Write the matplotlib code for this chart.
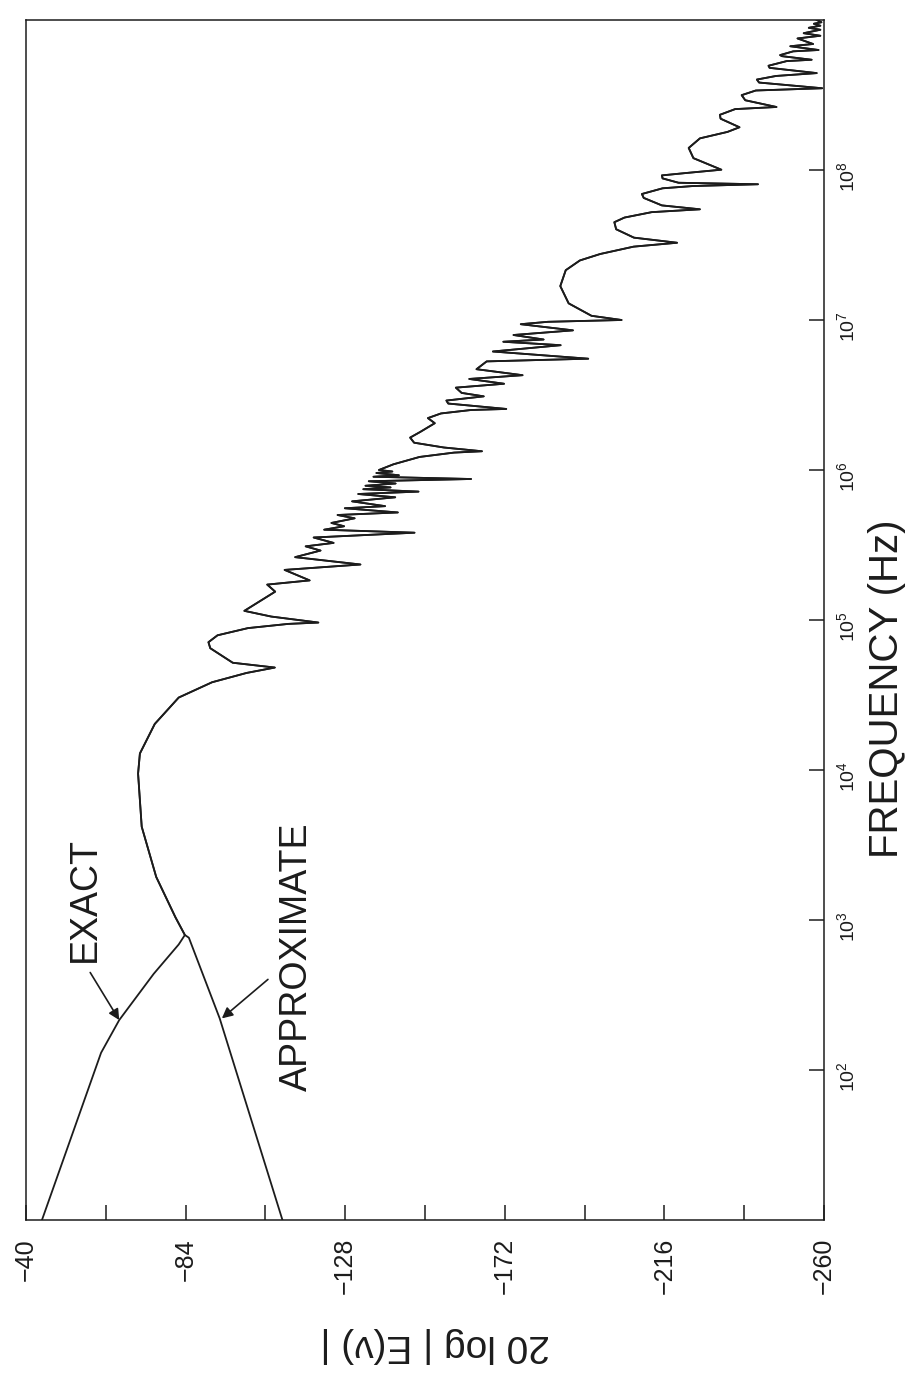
import numpy as np
import matplotlib.pyplot as plt
from matplotlib.ticker import NullLocator, FixedLocator

plt.rcParams['font.family'] = ['Liberation Sans', 'DejaVu Sans']
plt.rcParams['mathtext.fontset'] = 'custom'
plt.rcParams['mathtext.rm'] = 'Liberation Sans'

# frequencies are stored as log10(f / Hz), levels as 20 log |E(v)| in dB
exact_low_exp = [1.0, 2.115, 2.333, 2.641, 2.837, 2.90]
exact_low_db = [-44.4, -60.7, -65.7, -75.2, -82.1, -83.8]

approx_low_exp = [1.0, 2.344, 2.882, 2.90]
approx_low_db = [-110.7, -93.4, -84.9, -83.8]

# part of the spectrum where both curves coincide
shared_exp = [
    2.90, 3.018, 3.287, 3.622, 3.976, 4.11, 4.307, 4.483, 4.585, 4.647,
    4.683, 4.715, 4.812, 4.852, 4.898, 4.946, 4.974, 4.983, 5.023, 5.061,
    5.189, 5.236, 5.264, 5.334, 5.37, 5.419, 5.463, 5.491, 5.514, 5.55,
    5.582, 5.602, 5.625, 5.647, 5.678, 5.70, 5.717, 5.745, 5.759, 5.791,
    5.818, 5.840, 5.856, 5.872, 5.884, 5.895, 5.910, 5.925, 5.940, 5.955,
    5.965, 5.98, 5.99, 6.0, 6.038, 6.087, 6.116, 6.125, 6.15, 6.182,
    6.216, 6.254, 6.312, 6.346, 6.377, 6.40, 6.407, 6.426, 6.443, 6.463,
    6.491, 6.514, 6.549, 6.575, 6.607, 6.632, 6.672, 6.724, 6.742, 6.79,
    6.832, 6.855, 6.87, 6.90, 6.931, 6.972, 6.988, 7.0, 7.028, 7.111,
    7.226, 7.332, 7.397, 7.44, 7.489, 7.515, 7.549, 7.605, 7.652, 7.683,
    7.719, 7.738, 7.764, 7.814, 7.840, 7.878, 7.893, 7.905, 7.915, 7.944,
    7.964, 7.98, 8.002, 8.079, 8.147, 8.211, 8.254, 8.285, 8.342, 8.368,
    8.406, 8.42, 8.465, 8.499, 8.53, 8.545, 8.583, 8.603, 8.627, 8.646,
    8.681, 8.695, 8.726, 8.735, 8.759, 8.766, 8.791, 8.80, 8.825, 8.84,
    8.877, 8.895, 8.912, 8.935, 8.948, 8.962, 8.975, 8.985, 9.0,
]
shared_db = [
    -83.8, -81.2, -75.9, -71.9, -70.9, -71.4, -75.5, -82.1, -91.3, -100.8,
    -108.6, -97.0, -90.8, -90.3, -92.8, -101.2, -112.3, -120.6, -107.6, -100.2,
    -108.7, -106.5, -118.2, -111.3, -132.2, -114.2, -121.2, -117.1, -124.8, -119.3,
    -147.1, -122.2, -127.7, -124.2, -130.6, -125.9, -142.5, -127.9, -139.0, -129.9,
    -141.8, -131.6, -148.2, -133.0, -140.5, -133.6, -141.9, -134.5, -162.7, -135.8,
    -142.8, -136.6, -141.0, -137.3, -141.3, -148.5, -158.0, -165.7, -155.2, -147.0,
    -145.9, -148.7, -152.7, -150.8, -154.4, -162.7, -172.4, -163.9, -156.4, -155.9,
    -166.2, -160.1, -158.5, -171.8, -162.2, -176.9, -164.2, -167.0, -195.0, -168.7,
    -187.4, -171.6, -182.7, -174.4, -190.8, -176.4, -183.9, -204.2, -195.9, -189.6,
    -187.3, -188.8, -192.7, -198.3, -207.5, -219.5, -207.6, -202.7, -202.2, -205.0,
    -212.5, -225.8, -215.3, -210.3, -209.8, -215.5, -223.8, -241.8, -219.9, -215.5,
    -215.3, -222.0, -231.7, -224.0, -222.7, -225.8, -233.4, -236.7, -231.5, -231.3,
    -235.5, -246.9, -238.3, -237.3, -241.2, -259.5, -242.1, -241.5, -246.8, -258.0,
    -245.0, -244.7, -249.7, -256.6, -248.4, -247.9, -251.5, -258.5, -250.7, -257.0,
    -252.7, -259.0, -254.4, -259.0, -255.8, -259.0, -257.2, -259.3, -258.0,
]

db_ticks = [-40, -84, -128, -172, -216, -260]
db_tick_labels = ['\u221240', '\u221284', '\u2212128', '\u2212172', '\u2212216', '\u2212260']
db_minor_ticks = [-62, -106, -150, -194, -238]
freq_tick_exp = [2, 3, 4, 5, 6, 7, 8]
freq_tick_labels = [r'$\mathregular{10^{%d}}$' % e for e in freq_tick_exp]

ink = '#1c1c1c'

fig = plt.figure(figsize=(9.22, 13.73), dpi=100)
ax = fig.add_axes([26 / 922, 153 / 1373, 798 / 922, 1200 / 1373])

ax.plot(exact_low_db + shared_db, 10.0 ** np.array(exact_low_exp + shared_exp),
        color=ink, lw=1.3)
ax.plot(approx_low_db + shared_db, 10.0 ** np.array(approx_low_exp + shared_exp),
        color=ink, lw=1.3)

ax.set_yscale('log')
ax.set_xlim(-40, -260)
ax.set_ylim(1e1, 1e9)

# level axis (horizontal in the rotated figure)
ax.xaxis.set_major_locator(FixedLocator(db_ticks))
ax.xaxis.set_minor_locator(FixedLocator(db_minor_ticks))
ax.set_xticklabels(db_tick_labels)
ax.tick_params(axis='x', which='both', direction='in', length=11, width=1.1,
               color=ink, labelsize=18, labelrotation=90, pad=13, labelcolor=ink)

# frequency axis on the right side
ax.yaxis.tick_right()
ax.yaxis.set_major_locator(FixedLocator([10.0 ** e for e in freq_tick_exp]))
ax.yaxis.set_minor_locator(NullLocator())
ax.set_yticklabels(freq_tick_labels)
ax.tick_params(axis='y', which='major', direction='in', length=11, width=1.1,
               color=ink, labelsize=14, labelrotation=90, pad=9, labelcolor=ink)

for s in ax.spines.values():
    s.set_linewidth(1.1)
    s.set_color(ink)

ax.yaxis.set_label_position('right')
ax.set_ylabel('FREQUENCY (Hz)', fontsize=29, color=ink)
ax.yaxis.set_label_coords(1.055, 0.443)

ax.set_xlabel('20 log | E(\u03bd) |', fontsize=28, rotation=180, color=ink)
ax.xaxis.set_label_coords(0.5125, -0.089)

# curve labels with arrows
ax.text(-56.1, 10 ** 3.138, 'EXACT', rotation=90, fontsize=27,
        ha='center', va='center', color=ink)
ax.text(-114.7, 10 ** 2.752, 'APPROXIMATE', rotation=90, fontsize=27,
        ha='center', va='center', color=ink)
arrow = dict(arrowstyle='-|>', color=ink, lw=1.2, mutation_scale=16,
             shrinkA=0, shrinkB=0)
ax.annotate('', xy=(-65.7, 10 ** 2.333), xytext=(-57.7, 10 ** 2.65), arrowprops=arrow)
ax.annotate('', xy=(-94.0, 10 ** 2.344), xytext=(-106.7, 10 ** 2.604), arrowprops=arrow)

fig.savefig('out.png', dpi=100)
